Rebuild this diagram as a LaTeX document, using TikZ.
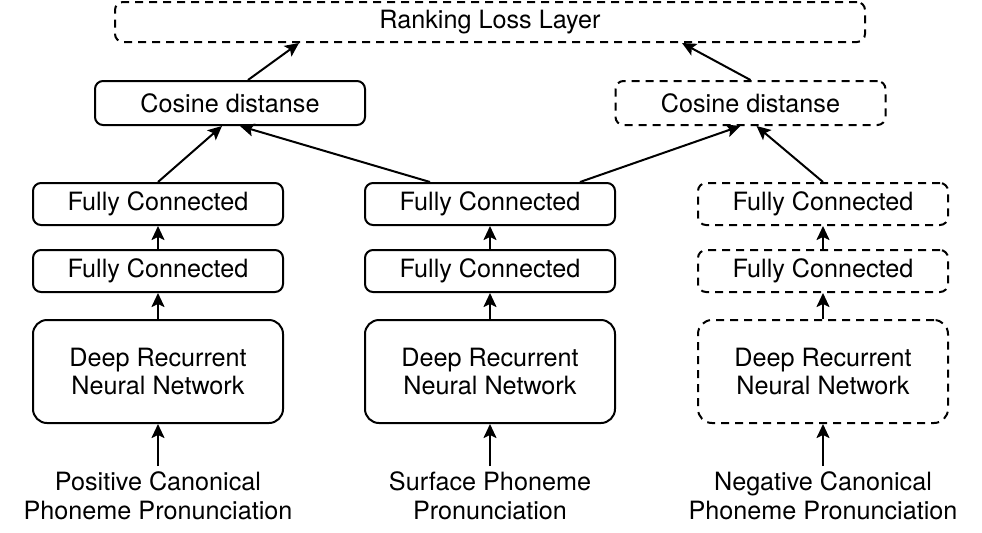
\documentclass[tikz,border=0pt]{standalone}
\usepackage{fontspec}
\setmainfont{TeX Gyre Heros}
\usetikzlibrary{arrows.meta,positioning}
\newcommand{\labelfont}{\fontsize{12.6}{14.4}\selectfont}
\tikzset{
  layer/.style={draw,line width=1pt,rounded corners=4pt,align=center,
              minimum width=125pt,minimum height=21pt,inner sep=0pt,font=\labelfont},
  rnnlayer/.style={layer,minimum height=51.5pt,rounded corners=7pt},
  coslayer/.style={layer,minimum width=135pt,minimum height=22pt},
  ghost/.style={dash pattern=on 4pt off 3pt},
  link/.style={-{Stealth[length=7pt,width=6.5pt,inset=1.5pt]},line width=1pt},
  source/.style={align=center,inner sep=2.5pt,font=\labelfont}
}
\begin{document}
\begin{tikzpicture}[x=0.5pt,y=-0.5pt,node distance=13pt and 40pt]
  \useasboundingbox (0,0) rectangle (982,532);
  % recurrent encoders
  \node[rnnlayer] (rnnpos) at (158,371.5) {Deep Recurrent\\Neural Network};
  \node[rnnlayer,right=of rnnpos] (rnnsurf) {Deep Recurrent\\Neural Network};
  \node[rnnlayer,ghost,right=40.5pt of rnnsurf] (rnnneg) {Deep Recurrent\\Neural Network};

  % fully connected layers
  \node[layer,above=of rnnpos] (fcposa) {Fully Connected};
  \node[layer,above=11.5pt of fcposa] (fcposb) {Fully Connected};
  \node[layer,above=of rnnsurf] (fcsurfa) {Fully Connected};
  \node[layer,above=11.5pt of fcsurfa] (fcsurfb) {Fully Connected};
  \node[layer,ghost,above=of rnnneg] (fcnega) {Fully Connected};
  \node[layer,ghost,above=11.5pt of fcnega] (fcnegb) {Fully Connected};

  % distances and loss
  \node[coslayer,above=28pt of fcposb,xshift=36pt] (cospos) {Cosine distanse};
  \node[coslayer,ghost,above=28pt of fcnegb,xshift=-36.25pt] (cosneg) {Cosine distanse};
  \node[layer,ghost,minimum width=375pt,minimum height=20pt] (rank) at (490,22) {Ranking Loss Layer};

  % inputs
  \node[source,below=21pt of rnnpos] (inpos) {Positive Canonical\\Phoneme Pronunciation};
  \node[source,below=21pt of rnnsurf] (insurf) {Surface Phoneme\\Pronunciation};
  \node[source,below=21pt of rnnneg] (inneg) {Negative Canonical\\Phoneme Pronunciation};

  \draw[link] (inpos) -- (rnnpos);
  \draw[link] (insurf) -- (rnnsurf);
  \draw[link] (inneg) -- (rnnneg);
  \draw[link] (rnnpos) -- (fcposa);
  \draw[link] (rnnsurf) -- (fcsurfa);
  \draw[link] (rnnneg) -- (fcnega);
  \draw[link] (fcposa) -- (fcposb);
  \draw[link] (fcsurfa) -- (fcsurfb);
  \draw[link] (fcnega) -- (fcnegb);

  \draw[link] (fcposb.north) -- ([xshift=-4pt]cospos.south);
  \draw[link] ([xshift=-30pt]fcsurfb.north) -- ([xshift=5pt]cospos.south);
  \draw[link] ([xshift=45pt]fcsurfb.north) -- ([xshift=-5pt]cosneg.south);
  \draw[link] (fcnegb.north) -- ([xshift=3pt]cosneg.south);
  \draw[link] ([xshift=9pt]cospos.north) -- ([xshift=-95.5pt]rank.south);
  \draw[link] (cosneg.north) -- ([xshift=96pt]rank.south);
\end{tikzpicture}
\end{document}
